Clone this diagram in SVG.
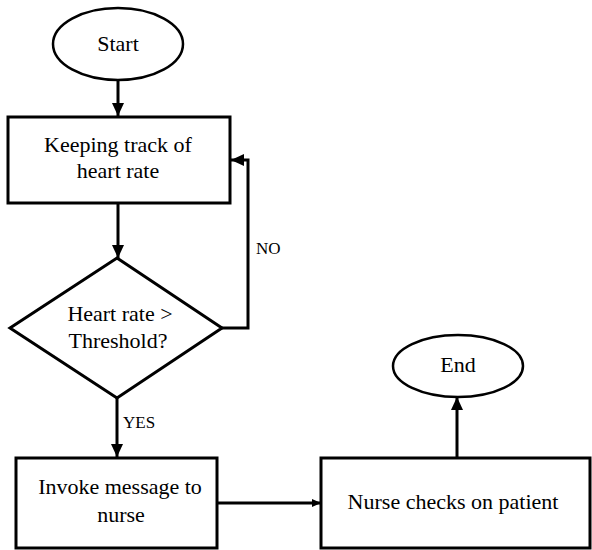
<svg xmlns="http://www.w3.org/2000/svg" width="592" height="550" viewBox="0 0 592 550">
<style>
.sh{fill:#fff;stroke:#000;stroke-width:3}
.el{fill:#fff;stroke:#000;stroke-width:2.5}
.t{font-family:"Liberation Serif",serif;font-size:22px;fill:#000;text-anchor:middle}
.s{font-family:"Liberation Serif",serif;font-size:17px;fill:#000}
.c{fill:none;stroke:#000;stroke-width:3}
</style>
<defs>
<marker id="ah" markerUnits="userSpaceOnUse" markerWidth="14" markerHeight="14" viewBox="0 0 14 14" refX="13" refY="7" orient="auto">
<path d="M0,1 L13,7 L0,13 Z" fill="#000"/>
</marker>
<marker id="ahs" markerUnits="userSpaceOnUse" markerWidth="10" markerHeight="10" viewBox="0 0 10 10" refX="9" refY="5" orient="auto">
<path d="M0,1 L9,5 L0,9 Z" fill="#000"/>
</marker>
</defs>
<rect width="592" height="550" fill="#fff"/>
<g id="connectors">
<line class="c" x1="118" y1="81" x2="118" y2="116" marker-end="url(#ah)"/>
<line class="c" x1="118" y1="203" x2="118" y2="258" marker-end="url(#ah)"/>
<polyline class="c" points="221,328 248,328 248,160 231,160" marker-end="url(#ah)"/>
<line class="c" x1="117" y1="398" x2="117" y2="457" marker-end="url(#ah)"/>
<line class="c" x1="217" y1="503" x2="321" y2="503" marker-end="url(#ahs)"/>
<line class="c" x1="457" y1="458" x2="457" y2="397" marker-end="url(#ah)"/>
<text class="s" x="256" y="254">NO</text>
<text class="s" x="123" y="428">YES</text>
</g>
<g id="start">
<ellipse class="el" cx="118" cy="44" rx="65" ry="36"/>
<text class="t" x="118" y="51">Start</text>
</g>
<g id="track">
<rect class="sh" x="8" y="117" width="222" height="86"/>
<text class="t" x="118" y="152">Keeping track of</text>
<text class="t" x="118" y="178">heart rate</text>
</g>
<g id="decision">
<polygon class="sh" points="117,258 222,328 117,398 10,328"/>
<text class="t" x="120" y="321">Heart rate &gt;</text>
<text class="t" x="118" y="348">Threshold?</text>
</g>
<g id="invoke">
<rect class="sh" x="16" y="458" width="201" height="90"/>
<text class="t" x="120" y="494">Invoke message to</text>
<text class="t" x="121" y="522">nurse</text>
</g>
<g id="nurse">
<rect class="sh" x="321" y="458" width="269" height="90"/>
<text class="t" x="453" y="509">Nurse checks on patient</text>
</g>
<g id="end">
<ellipse class="el" cx="458" cy="366" rx="65" ry="31"/>
<text class="t" x="458" y="372">End</text>
</g>
</svg>
